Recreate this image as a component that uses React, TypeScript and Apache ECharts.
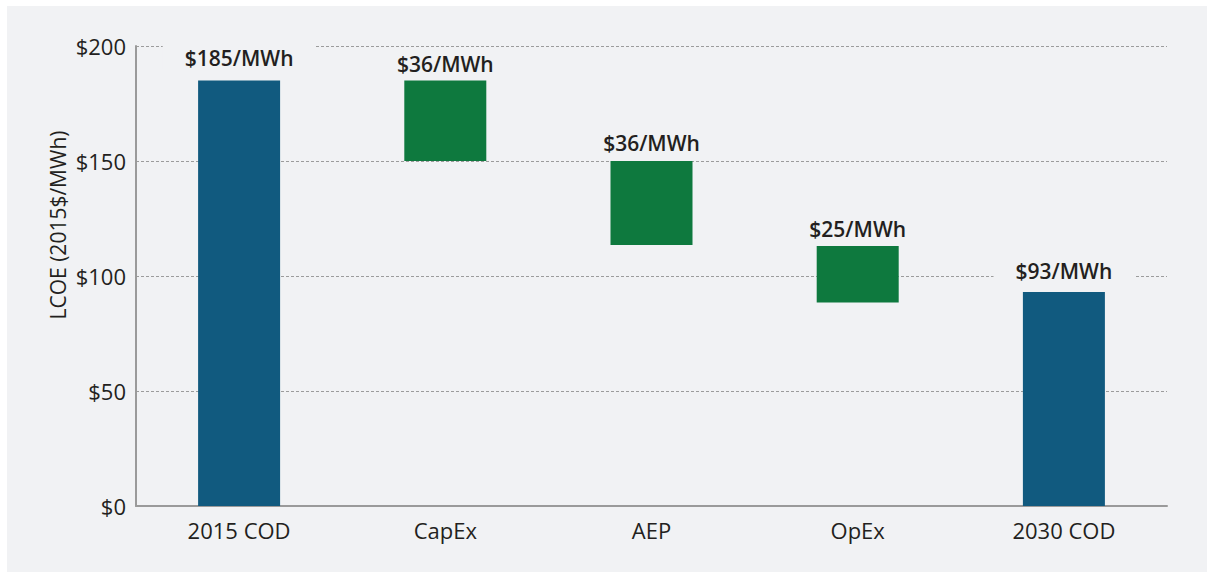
import React, { useEffect, useRef } from "react";
import * as echarts from "echarts";

const categories = ["2015 COD", "CapEx", "AEP", "OpEx", "2030 COD"];
const barBottom = [0, 150, 113.5, 88.5, 0];
const barTop = [185, 185, 150, 113, 93];
const barLabels = ["$185/MWh", "$36/MWh", "$36/MWh", "$25/MWh", "$93/MWh"];
const barKinds = ["total", "delta", "delta", "delta", "total"];
const yTicks = [0, 50, 100, 150, 200];
const yAxisTitle = "LCOE (2015$/MWh)";

const BLUE = "#115a7f";
const GREEN = "#0e793e";
const PANEL = "#f1f2f4";
const TEXT = "#231f20";
const FONT = "'Open Sans', 'DejaVu Sans', sans-serif";

const labelDistance = [12, 6, 8, 7, 11];

export default function App() {
  const ref = useRef<HTMLDivElement>(null);
  useEffect(() => {
    document.body.style.margin = "0";
    if (!ref.current) return;
    const chart = echarts.init(ref.current, null, { renderer: "svg" });
    chart.setOption({
      animation: false,
      backgroundColor: "#ffffff",
      textStyle: { fontFamily: FONT },
      graphic: [
        {
          type: "rect",
          z: -10,
          silent: true,
          shape: { x: 7, y: 6, width: 1200, height: 566 },
          style: { fill: PANEL },
        },
        {
          type: "text",
          x: 58,
          y: 225,
          rotation: Math.PI / 2,
          style: {
            text: yAxisTitle,
            fontFamily: FONT,
            fontSize: 21,
            fill: TEXT,
            align: "center",
            verticalAlign: "middle",
            textAlign: "center",
            textVerticalAlign: "middle",
          },
        },
      ],
      grid: { left: 136, right: 40, top: 46, bottom: 67, containLabel: false },
      xAxis: {
        type: "category",
        data: categories,
        axisLine: { show: true, lineStyle: { color: "#9a9a9a", width: 2 } },
        axisTick: { show: false },
        axisLabel: { color: TEXT, fontSize: 22, fontFamily: FONT, margin: 13 },
      },
      yAxis: {
        type: "value",
        min: yTicks[0],
        max: yTicks[yTicks.length - 1],
        interval: 50,
        axisLine: { show: true, lineStyle: { color: "#9a9a9a", width: 2 } },
        axisTick: { show: false },
        axisLabel: {
          color: TEXT,
          fontSize: 22,
          fontFamily: FONT,
          margin: 10,
          formatter: (v: number) => "$" + v,
        },
        splitLine: {
          show: true,
          lineStyle: { color: "#9c9c9c", width: 1, type: [3, 2] },
        },
      },
      series: [
        {
          type: "bar",
          stack: "w",
          barWidth: 82,
          silent: true,
          itemStyle: { color: "transparent" },
          data: barBottom,
        },
        {
          type: "bar",
          stack: "w",
          barWidth: 82,
          data: barTop.map((t, i) => ({
            value: t - barBottom[i],
            itemStyle: { color: barKinds[i] === "total" ? BLUE : GREEN },
            label: {
              show: true,
              position: "top",
              distance: labelDistance[i],
              formatter: barLabels[i],
              color: TEXT,
              fontSize: 21,
              fontWeight: 600,
              fontFamily: FONT,
              backgroundColor: PANEL,
              padding: [6, 22, 0, 22],
            },
          })),
        },
      ],
    });
    return () => chart.dispose();
  }, []);
  return <div ref={ref} style={{ width: 1207, height: 573 }} />;
}
